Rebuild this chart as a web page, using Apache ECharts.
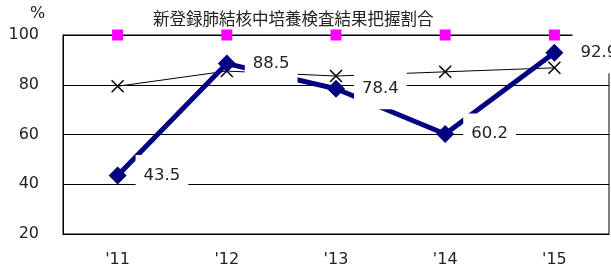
<!DOCTYPE html>
<html>
<head>
<meta charset="utf-8">
<script src="https://cdn.jsdelivr.net/npm/echarts@6/dist/echarts.min.js"></script>
<style>
  html, body { margin: 0; padding: 0; background: #fff; }
  #main { width: 611px; height: 268px; }
</style>
</head>
<body>
<div id="main"></div>
<script>
var years = ["'11", "'12", "'13", "'14", "'15"];
var rate = [43.5, 88.5, 78.4, 60.2, 92.9];      // 把握割合
var compare = [79.4, 85.5, 83.5, 85.2, 86.8];   // 比較値 (×)
var target = [100, 100, 100, 100, 100];         // 目標

var myChart = echarts.init(document.getElementById('main'));
var option = {
  animation: false,
  title: {
    text: '新登録肺結核中培養検査結果把握割合',
    left: 148,
    top: 5,
    textStyle: {
      fontFamily: 'Noto Sans CJK JP',
      fontSize: 16.5,
      fontWeight: 'normal',
      color: '#222'
    }
  },
  graphic: [{
    type: 'text',
    left: 30,
    top: 6,
    style: { text: '%', font: '16px "DejaVu Sans"', fill: '#222' }
  }],
  grid: {
    left: 63, right: 2, top: 35, bottom: 31,
    show: true,
    borderColor: '#000',
    borderWidth: 1
  },
  xAxis: {
    type: 'category',
    data: years,
    boundaryGap: true,
    axisLine: { lineStyle: { color: '#000' } },
    axisTick: { inside: true, length: 6, lineStyle: { color: '#555' } },
    axisLabel: { margin: 18, fontFamily: 'DejaVu Sans', fontSize: 16, color: '#222' }
  },
  yAxis: {
    type: 'value',
    min: 20,
    max: 100,
    interval: 20,
    axisLine: { show: true, lineStyle: { color: '#000' } },
    axisTick: { show: false },
    axisLabel: { margin: 24, fontFamily: 'DejaVu Sans', fontSize: 16, color: '#222' },
    splitLine: { lineStyle: { color: '#000', width: 1 } }
  },
  series: [
    {
      type: 'line',
      data: target,
      z: 2,
      symbol: 'rect',
      symbolSize: 11,
      itemStyle: { color: '#ff00ff' },
      lineStyle: { width: 0, opacity: 0 }
    },
    {
      type: 'line',
      data: compare,
      z: 3,
      symbol: 'path://M0,0L10,10M10,0L0,10',
      symbolSize: 12,
      itemStyle: { color: 'transparent', borderColor: '#000', borderWidth: 1.5 },
      lineStyle: { color: '#000', width: 1 }
    },
    {
      type: 'line',
      data: rate,
      z: 4,
      symbol: 'diamond',
      symbolSize: 18,
      itemStyle: { color: '#000080' },
      lineStyle: { color: '#000080', width: 5 },
      label: {
        show: true,
        position: 'right',
        distance: 9,
        backgroundColor: '#fff',
        padding: [12, 8],
        fontFamily: 'DejaVu Sans',
        fontSize: 16.5,
        color: '#222'
      }
    }
  ]
};
myChart.setOption(option);
window.onresize = function () {
  myChart.resize();
}
</script>
</body>
</html>
